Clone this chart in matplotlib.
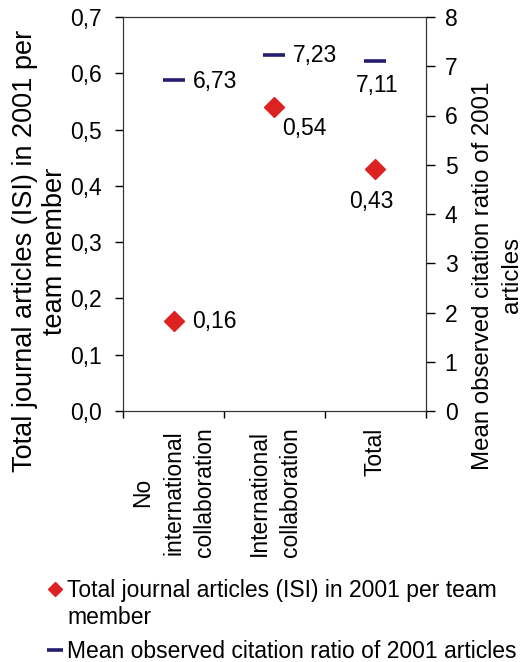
import numpy as np
import matplotlib
matplotlib.use('Agg')
import matplotlib.pyplot as plt

plt.rcParams['font.family'] = ['Liberation Sans', 'DejaVu Sans']
plt.rcParams['font.size'] = 16.5

# data
categories = ['No\ninternational\ncollaboration', 'International\ncollaboration', 'Total']
articles = [0.16, 0.54, 0.43]
articles_labels = ['0,16', '0,54', '0,43']
citation = [6.73, 7.23, 7.11]
citation_labels = ['6,73', '7,23', '7,11']

red = '#dd2222'
navy = '#251d6e'

fig = plt.figure(figsize=(5.26, 6.62), dpi=100)
ax = fig.add_axes([123/526, 1 - 411/662, 303/526, 394/662])
ax2 = ax.twinx()

pos = np.arange(len(categories)) + 0.5

h1, = ax.plot(pos, articles, linestyle='none', marker='D', markersize=10.2,
              color=red, label='Total journal articles (ISI) in 2001 per team')
h2, = ax2.plot(pos, citation, linestyle='none', marker='_', markersize=16,
               markeredgewidth=2.6, color=navy,
               label='Mean observed citation ratio of 2001 articles')

# value labels (offsets in pixels)
art_off = [(19, -1, 'left'), (8, -21, 'left'), (-4, -33, 'center')]
for x, v, t, (dx, dy, ha) in zip(pos, articles, articles_labels, art_off):
    ax.annotate(t, (x, v), xytext=(dx, dy), textcoords='offset pixels',
                ha=ha, va='center')
cit_off = [(19, -2, 'left'), (18, -1, 'left'), (2, -25, 'center')]
for x, v, t, (dx, dy, ha) in zip(pos, citation, citation_labels, cit_off):
    ax2.annotate(t, (x, v), xytext=(dx, dy), textcoords='offset pixels',
                 ha=ha, va='center')

# axes limits and ticks
ax.set_xlim(0, 3)
ax.set_ylim(0, 0.7)
ax2.set_ylim(0, 8)
ax.set_yticks(np.arange(0, 0.71, 0.1))
ax.set_yticklabels([('%.1f' % v).replace('.', ',') for v in np.arange(0, 0.71, 0.1)])
ax2.set_yticks(range(0, 9))

ax.set_xticks([0, 1, 2, 3])
ax.set_xticklabels([])
ax.set_xticks(pos, minor=True)
ax.set_xticklabels(categories, minor=True, rotation=90, va='top', ha='center',
                   multialignment='center', linespacing=1.45)
ax.tick_params(axis='x', which='minor', length=0, pad=12)
ax.tick_params(axis='x', which='major', length=5, width=1, direction='out')
ax.tick_params(axis='y', length=6, width=1, pad=9)
ax2.tick_params(axis='y', length=6.5, width=1, pad=7)

for a in (ax, ax2):
    for s in a.spines.values():
        s.set_color('#333333')

ax.set_ylabel('Total journal articles (ISI) in 2001 per\nteam member', fontsize=19.5,
              multialignment='center', va='center', linespacing=1.2)
ax.yaxis.set_label_coords(-0.275, 0.406)
ax2.set_ylabel('Mean observed citation ratio of 2001\narticles', fontsize=17.3,
               multialignment='center', va='center', rotation=90, linespacing=1.4)
ax2.yaxis.set_label_coords(1.235, 0.344)

# legend: first entry wraps onto a second line
leg = fig.legend(handles=[h1, h2], loc='upper left', bbox_to_anchor=(47/526, 1 - 579/662),
                 frameon=False, markerscale=0.72, handlelength=0.7, handletextpad=0.17,
                 labelspacing=1.68, borderaxespad=0, borderpad=0)
fig.text(67/526, 1 - 624/662, 'member', ha='left', va='baseline')

plt.savefig('out.png', dpi=100)
